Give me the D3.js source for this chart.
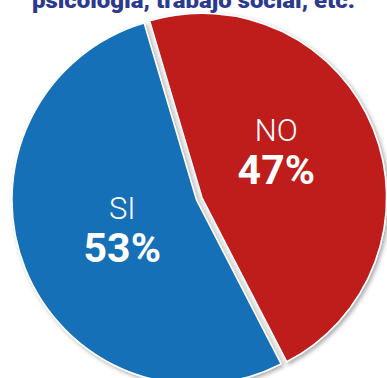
<!DOCTYPE html>
<html>
<head>
<meta charset="utf-8">
<script src="https://cdn.jsdelivr.net/npm/d3@7"></script>
<style>
  html, body { margin: 0; padding: 0; background: #fff; }
  svg { display: block; }
</style>
</head>
<body>
<div id="chart"></div>
<script>
// Chart data
var categories = ["NO", "SI"];
var values = [47, 53];
var valueLabels = ["47%", "53%"];
var colors = ["#bf1a1c", "#1570b8"];
var title = "psicología, trabajo social, etc.";

var width = 387, height = 378;
var cx = 196.5, cy = 200, radius = 184.5;

var svg = d3.select("#chart").append("svg")
  .attr("width", width)
  .attr("height", height);

// soft shadow under the slices
var defs = svg.append("defs");
defs.append("filter")
    .attr("id", "shadow")
    .attr("x", "-10%").attr("y", "-10%")
    .attr("width", "120%").attr("height", "120%")
  .append("feDropShadow")
    .attr("dx", 2).attr("dy", 2)
    .attr("stdDeviation", 2)
    .attr("flood-color", "#000")
    .attr("flood-opacity", 0.35);

// Title (cut off by the top edge, as in the source)
svg.append("text")
  .attr("x", 32)
  .attr("y", 7.5)
  .attr("textLength", 323)
  .attr("lengthAdjust", "spacingAndGlyphs")
  .style("font-family", "Roboto, 'Open Sans', sans-serif")
  .style("font-weight", 900)
  .style("font-size", "22px")
  .style("fill", "#2b3a8f")
  .text(title);

var data = categories.map(function(c, i) {
  return { name: c, value: values[i], label: valueLabels[i], color: colors[i] };
});

var pie = d3.pie()
  .sort(null)
  .value(function(d) { return d.value; })
  .startAngle(-16.5 * Math.PI / 180)
  .endAngle((360 - 16.5) * Math.PI / 180);

var arcs = pie(data);

var arc = d3.arc().innerRadius(0).outerRadius(radius);
var labelArc = d3.arc().innerRadius(80).outerRadius(80);

// the NO slice is pulled out a little
var explode = [6, 0];
var labelNudge = [[0, -16], [0, 0]];

var g = svg.append("g")
  .attr("transform", "translate(" + cx + "," + cy + ")");

var slice = g.selectAll("g.slice")
  .data(arcs)
  .enter()
  .append("g")
    .attr("class", "slice")
    .attr("transform", function(d, i) {
      var a = (d.startAngle + d.endAngle) / 2;
      return "translate(" + (Math.sin(a) * explode[i]) + "," + (-Math.cos(a) * explode[i]) + ")";
    });

slice.append("path")
  .attr("d", arc)
  .style("fill", function(d) { return d.data.color; })
  .style("stroke", "#fff")
  .style("stroke-width", 1.5)
  .attr("filter", "url(#shadow)");

var label = slice.append("g")
  .attr("transform", function(d, i) {
    var c = labelArc.centroid(d);
    return "translate(" + (c[0] + labelNudge[i][0]) + "," + (c[1] + labelNudge[i][1]) + ")";
  })
  .style("fill", "#fff")
  .style("text-anchor", "middle")
  .style("font-family", "Roboto, sans-serif");

label.append("text")
  .attr("y", -11)
  .style("font-weight", 300)
  .style("font-size", "31px")
  .text(function(d) { return d.data.name; });

label.append("text")
  .attr("y", 32)
  .style("font-weight", 700)
  .style("font-size", "41px")
  .text(function(d) { return d.data.label; });
</script>
</body>
</html>
